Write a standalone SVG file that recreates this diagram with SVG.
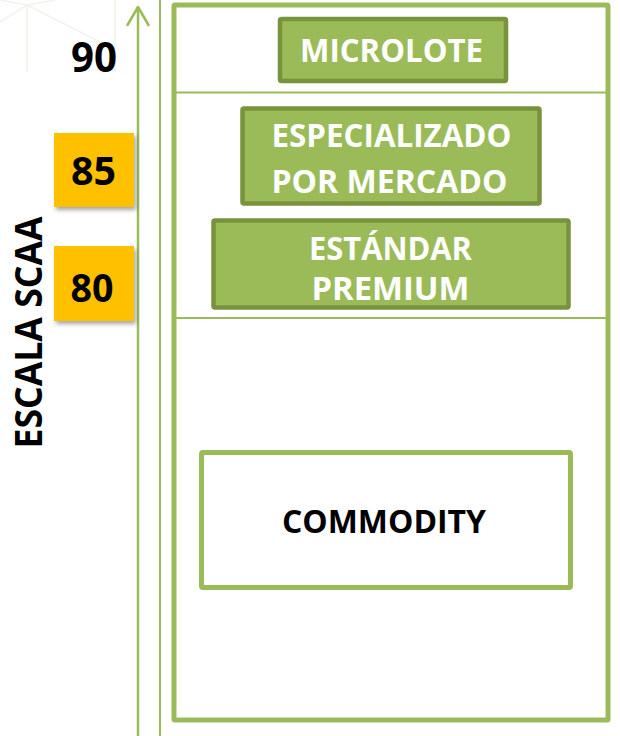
<svg xmlns="http://www.w3.org/2000/svg" width="620" height="736" viewBox="0 0 620 736">
<defs>
<style>
.lbl{font-family:"Open Sans","Liberation Sans",sans-serif;font-weight:700;}
.w{fill:#ffffff;}
.k{fill:#000000;}
.gbox{fill:#9BBB59;stroke:#77933C;stroke-width:4.5;}
.ybox{fill:#FFC000;}
.ln{stroke:#9BBB59;fill:none;}
.bg{stroke:#F1F4EC;stroke-width:1.5;fill:none;}
</style>
<filter id="sh" x="-20%" y="-20%" width="150%" height="150%">
<feDropShadow dx="2" dy="3" stdDeviation="2" flood-color="#000" flood-opacity="0.35"/>
</filter>
</defs>
<rect width="620" height="736" fill="#ffffff"/>
<g id="background">
<path class="bg" d="M27 5 L27 72 M27 5 L0 22 M27 5 L110 47 M27 5 L0 0 M27 5 L55 0 M115 0 L115 72"/>
</g>
<g id="connectors">
<line class="ln" x1="138" y1="736" x2="138" y2="7" stroke-width="2.5"/>
<polyline class="ln" points="127.5,25 138,7 148.5,25" stroke-width="2.5" stroke-linecap="round" stroke-linejoin="round"/>
<line class="ln" x1="160" y1="0" x2="160" y2="736" stroke-width="2"/>
</g>
<g id="frame">
<rect class="ln" x="174" y="5" width="434" height="715" stroke-width="5" rx="1"/>
<line class="ln" x1="176" y1="92.5" x2="606" y2="92.5" stroke-width="2"/>
<line class="ln" x1="176" y1="318" x2="606" y2="318" stroke-width="2"/>
</g>
<g id="scale-90">
<text class="lbl k" x="94" y="72" font-size="42" text-anchor="middle" textLength="46" lengthAdjust="spacingAndGlyphs">90</text>
</g>
<g id="scale-85">
<rect class="ybox" x="54" y="133" width="80" height="74" filter="url(#sh)"/>
<text class="lbl k" x="93.5" y="185" font-size="39" text-anchor="middle" textLength="45" lengthAdjust="spacingAndGlyphs">85</text>
</g>
<g id="scale-80">
<rect class="ybox" x="54" y="246" width="80" height="75" filter="url(#sh)"/>
<text class="lbl k" x="92" y="301.5" font-size="39" text-anchor="middle" textLength="43" lengthAdjust="spacingAndGlyphs">80</text>
</g>
<g id="axis-label">
<text class="lbl k" x="0" y="0" font-size="37" text-anchor="middle" transform="translate(42,332.5) rotate(-90)" textLength="232" lengthAdjust="spacingAndGlyphs">ESCALA SCAA</text>
</g>
<g id="microlote">
<rect class="gbox" x="280" y="19" width="226" height="62" rx="1.5"/>
<text class="lbl w" x="391.5" y="61.5" font-size="32" text-anchor="middle" textLength="183" lengthAdjust="spacingAndGlyphs">MICROLOTE</text>
</g>
<g id="especializado">
<rect class="gbox" x="242.5" y="108.5" width="297" height="95" rx="1.5"/>
<text class="lbl w" x="391.5" y="146.5" font-size="33" text-anchor="middle" textLength="240" lengthAdjust="spacingAndGlyphs">ESPECIALIZADO</text>
<text class="lbl w" x="389.5" y="192.5" font-size="33" text-anchor="middle" textLength="236" lengthAdjust="spacingAndGlyphs">POR MERCADO</text>
</g>
<g id="estandar">
<rect class="gbox" x="213.5" y="220.5" width="355" height="87" rx="1.5"/>
<text class="lbl w" x="390.5" y="260" font-size="33" text-anchor="middle" textLength="163" lengthAdjust="spacingAndGlyphs">ESTÁNDAR</text>
<text class="lbl w" x="390.5" y="300" font-size="33" text-anchor="middle" textLength="158" lengthAdjust="spacingAndGlyphs">PREMIUM</text>
</g>
<g id="commodity">
<rect x="201.5" y="452.5" width="369" height="135" fill="#ffffff" stroke="#9BBB59" stroke-width="5" rx="1.5"/>
<text class="lbl k" x="384" y="533" font-size="33" text-anchor="middle" textLength="204" lengthAdjust="spacingAndGlyphs">COMMODITY</text>
</g>
</svg>
